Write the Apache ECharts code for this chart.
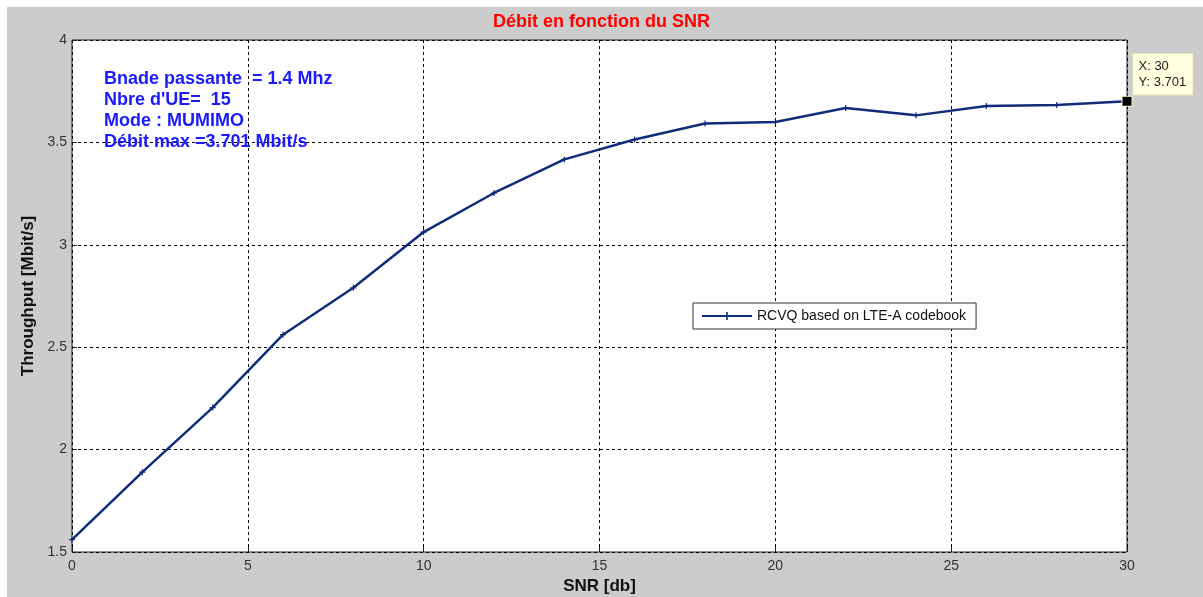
<!DOCTYPE html>
<html><head><meta charset="utf-8">
<script src="https://cdn.jsdelivr.net/npm/echarts@6/dist/echarts.min.js"></script>
<style>html,body{margin:0;padding:0;background:#fff}#c{width:1203px;height:597px}</style>
</head><body><div id="c"></div>
<script>
const snr = [0,2,4,6,8,10,12,14,16,18,20,22,24,26,28,30];
const throughput = [1.56,1.89,2.205,2.561,2.79,3.062,3.253,3.417,3.514,3.592,3.600,3.668,3.632,3.678,3.683,3.701];
const seriesName = 'RCVQ based on LTE-A codebook';
const titleText = 'Débit en fonction du SNR';
const xName = 'SNR [db]';
const yName = 'Throughput [Mbit/s]';
const infoLines = ['Bnade passante  = 1.4 Mhz', "Nbre d'UE=  15", 'Mode : MUMIMO', 'Débit max =3.701 Mbit/s'];
const tipX = 30, tipY = 3.701;

const chart = echarts.init(document.getElementById('c'), null, {renderer:'canvas'});
const font = 'Arial, "Liberation Sans", sans-serif';
const plus = 'path://M4,0h2v4h4v2h-4v4h-2v-4h-4v-2h4z';
const gridLine = {show:true, lineStyle:{color:'#000', type:[3,3], width:1}};
chart.setOption({
  backgroundColor:'#fff',
  animation:false,
  graphic:[
    {type:'rect', left:7, top:7, shape:{width:1196, height:590}, style:{fill:'#cccccc'}, z:-10, silent:true},
    {type:'text', left:104, top:69, z:10, style:{text:infoLines.join('\n'), fill:'#1a1aff', font:'bold 18px '+font, lineHeight:21}}
  ],
  title:{text:titleText, left:'center', top:8, textStyle:{color:'#ff0000', fontSize:18, fontWeight:'bold', fontFamily:font}},
  grid:{left:72, top:40, right:76, bottom:45, outerBoundsMode:'none', containLabel:false, show:true, backgroundColor:'#fff', borderColor:'#222', borderWidth:1},
  legend:{
    data:[seriesName], left:693, top:303, orient:'vertical',
    backgroundColor:'#fff', borderColor:'#333', borderWidth:1, padding:[6,10,6,8],
    itemWidth:50, itemHeight:10, itemGap:0,
    textStyle:{color:'#111', fontSize:14, fontFamily:font}
  },
  xAxis:{type:'value', min:0, max:30, interval:5,
    name:xName, nameLocation:'middle', nameGap:26,
    nameTextStyle:{color:'#111', fontSize:17, fontWeight:'bold', fontFamily:font},
    axisLine:{show:false}, axisTick:{show:true, inside:true, length:5, lineStyle:{color:'#222'}},
    axisLabel:{color:'#333', fontSize:14, fontFamily:font, margin:7},
    splitLine:gridLine},
  yAxis:{type:'value', min:1.5, max:4, interval:0.5,
    name:yName, nameLocation:'middle', nameGap:30,
    nameTextStyle:{color:'#111', fontSize:17, fontWeight:'bold', fontFamily:font},
    axisLine:{show:false}, axisTick:{show:true, inside:true, length:5, lineStyle:{color:'#222'}},
    axisLabel:{color:'#333', fontSize:14, fontFamily:font, margin:5},
    splitLine:gridLine},
  series:[{
    name:seriesName, type:'line', data:snr.map((x,i)=>[x,throughput[i]]),
    symbol:plus, symbolSize:6, showAllSymbol:true,
    lineStyle:{color:'#112d7a', width:2.5}, itemStyle:{color:'#112d7a'},
    markPoint:{
      symbol:'rect', symbolSize:10,
      itemStyle:{color:'#000', borderColor:'#ffffcc', borderWidth:1},
      label:{show:true, position:'right', distance:1, offset:[0,-27],
        formatter:'X: '+tipX+'\nY: '+tipY,
        backgroundColor:'#ffffe0', padding:[4,6,4,5], lineHeight:16,
        color:'#222', fontSize:13, fontFamily:font, borderColor:'#f0f0c0', borderWidth:1},
      data:[{coord:[tipX, tipY]}]
    }
  }]
});
</script></body></html>
